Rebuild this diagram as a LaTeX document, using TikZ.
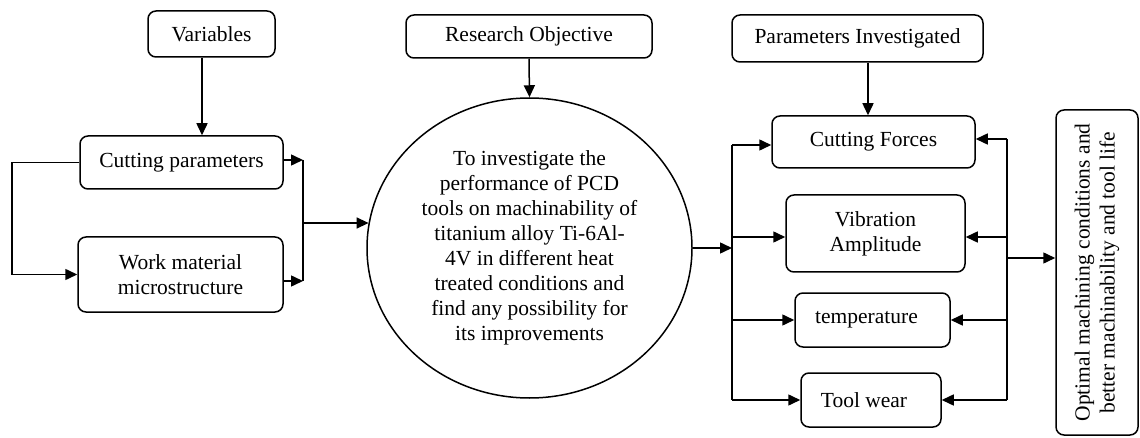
\documentclass[tikz,border=0pt]{standalone}
\usepackage{fontspec}
\setmainfont{Liberation Serif}
\newfontfamily\diagserif{Liberation Serif}
\usetikzlibrary{arrows.meta,shapes.geometric}
\begin{document}
\begin{tikzpicture}[x=1pt,y=-1pt,
  txt/.style={font=\diagserif\fontsize{21.5}{25}\selectfont,align=center},
  box/.style={txt,draw,line width=1.5pt,rounded corners=8pt,inner sep=0pt},
  arr/.style={line width=1.5pt,-{Triangle[length=12pt,width=11pt]}},
  ln/.style={line width=1.5pt}]
\useasboundingbox (0,0) rectangle (1140,438);
% left group
\node[box,minimum width=127pt,minimum height=46pt] (var) at (211.5,34) {Variables};
\node[box,minimum width=203pt,minimum height=53pt] (cp) at (181.5,162.5) {Cutting parameters};
\node[box,minimum width=205pt,minimum height=75pt] (wm) at (180.5,274.5) {Work material\\microstructure};
% centre
\node[box,minimum width=246pt,minimum height=43pt] (ro) at (529,36.5) {Research Objective};
\node[txt,draw,line width=1.5pt,ellipse,inner sep=0pt,minimum width=325pt,minimum height=300pt] (circ) at (529.5,248)
  {To investigate the\\performance of PCD\\tools on machinability of\\titanium alloy Ti-6Al-\\4V in different heat\\treated conditions and\\find any possibility for\\its improvements};
% right group
\node[box,minimum width=251pt,minimum height=47pt] (pi) at (857.5,38.5) {Parameters Investigated};
\node[box,minimum width=203pt,minimum height=52pt] (cf) at (873.5,142) {Cutting Forces};
\node[box,minimum width=179pt,minimum height=77pt] (va) at (875.5,233.5) {Vibration\\Amplitude};
\node[box,minimum width=155pt,minimum height=54pt] (tp) at (872.5,320) {temperature\hspace*{12pt}};
\node[box,minimum width=140pt,minimum height=54pt] (tw) at (871,400) {Tool wear\hspace*{14pt}};
\node[box,rotate=90,minimum width=325pt,minimum height=82pt] (opt) at (1097,272.5)
  {Optimal machining conditions and\\better machinability and tool life};
% coordinates
\coordinate (vx) at (202,0);
\coordinate (lp) at (12,0);
\coordinate (j1) at (303,160);
\coordinate (j2) at (303,281);
\coordinate (j3) at (303,223);
\coordinate (px) at (868,0);
\coordinate (L1) at (732,145);
\coordinate (L2) at (732,237);
\coordinate (L3) at (732,320);
\coordinate (L4) at (732,400);
\coordinate (R1) at (1007,139);
\coordinate (R2) at (1007,237);
\coordinate (R3) at (1007,320);
\coordinate (R4) at (1007,400);
\coordinate (R5) at (1007,258);
% left connectors
\draw[arr] (var.south -| vx) -- (cp.north -| vx);
\draw[arr] (cp.west) -- (cp.west -| lp) |- (wm.west);
\draw[arr] (cp.east |- j1) -- (j1);
\draw[arr] (wm.east |- j2) -- (j2);
\draw[ln] (j1) -- (j2);
\draw[arr] (j3) -- (circ.171 |- j3);
% centre connectors
\draw[arr] (ro.south) -- (circ.north);
\draw[arr] (circ.east) -- (circ.east -| L1);
% right connectors
\draw[arr] (pi.south -| px) -- (cf.north -| px);
\draw[ln] (L1) -- (L4);
\draw[arr] (L1) -- (cf.west |- L1);
\draw[arr] (L2) -- (va.west |- L2);
\draw[arr] (L3) -- (tp.west |- L3);
\draw[arr] (L4) -- (tw.west |- L4);
\draw[ln] (R1) -- (R4);
\draw[arr] (R1) -- (cf.east |- R1);
\draw[arr] (R2) -- (va.east |- R2);
\draw[arr] (R3) -- (tp.east |- R3);
\draw[arr] (R4) -- (tw.east |- R4);
\draw[arr] (R5) -- (opt.north |- R5);
\end{tikzpicture}
\end{document}
